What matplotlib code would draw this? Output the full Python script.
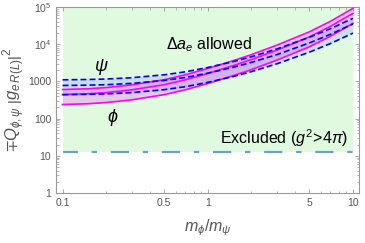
import matplotlib
matplotlib.use("Agg")
import matplotlib.pyplot as plt
import numpy as np

plt.rcParams['font.family'] = ['Liberation Sans', 'DejaVu Sans']
plt.rcParams['mathtext.fontset'] = 'custom'
plt.rcParams['mathtext.rm'] = 'Liberation Sans'
plt.rcParams['mathtext.it'] = 'Liberation Sans:italic'
plt.rcParams['mathtext.bf'] = 'Liberation Sans:bold'
plt.rcParams['mathtext.fallback'] = 'stixsans'

# ---- data ----
mass_ratio = [0.1, 0.15, 0.2, 0.3, 0.5, 0.7, 1, 1.5, 2, 3, 5, 7, 10]

psi_upper = [1103, 1126, 1158, 1256, 1502, 1807, 2362, 3402, 4602, 7484, 15300, 26210, 49810]
psi_mid = [777, 793, 815, 885, 1058, 1273, 1663, 2396, 3241, 5270, 10780, 18460, 35080]
psi_lower = [439, 449, 461, 500, 598, 720, 941, 1355, 1833, 2982, 6096, 10440, 19840]

phi_upper = [604, 634, 682, 808, 1110, 1502, 2224, 3617, 5258, 9465, 21430, 41290, 92130]
phi_mid = [443, 465, 500, 593, 814, 1102, 1632, 2654, 3858, 6944, 15720, 30290, 67590]
phi_lower = [239, 251, 270, 319, 439, 594, 879, 1430, 2078, 3741, 8470, 16320, 36410]

perturbative_limit = 4 * np.pi
region_x = [0.1, 10]
region_top = 1e5

xticks = [0.1, 0.5, 1, 5, 10]
xticklabels = ['0.1', '0.5', '1', '5', '10']
yticks = [1, 10, 100, 1000, 1e4, 1e5]
yticklabels = ['1', '10', '100', '1000', r'$10^4$', r'$10^5$']

# ---- figure ----
fig = plt.figure(figsize=(3.65, 2.43), dpi=100)
ax = fig.add_axes([56/365, 1-193/243, (359-56)/365, (193-7)/243])
ax.set_xscale('log')
ax.set_yscale('log')
ax.set_xlim(0.0902, 11.0)
ax.set_ylim(1, 1e5)

# allowed region
ax.fill_between(region_x, [perturbative_limit]*2, [region_top]*2,
                color='#e0fae0', lw=0, zorder=0)
ax.plot(region_x, [perturbative_limit]*2, color='#6a9fcf', lw=1.6,
        linestyle=(1.5, (8.2, 6.2, 2.4, 6.2)), zorder=2)

# psi band
ax.fill_between(mass_ratio, psi_lower, psi_upper, color='blue', alpha=0.1, lw=0, zorder=1)
# phi band
ax.fill_between(mass_ratio, phi_lower, phi_upper, color='magenta', alpha=0.2, lw=0, zorder=1)

for ys in (phi_upper, phi_mid, phi_lower):
    ax.plot(mass_ratio, ys, color='#ff00ff', lw=1.2, zorder=3)
for ys in (psi_upper, psi_mid, psi_lower):
    ax.plot(mass_ratio, ys, color='#0000ff', lw=1.2, linestyle=(0, (3.6, 1.8)), zorder=4)

# texts
def px(x, y):
    return fig.transFigure.inverted().transform((x, 243 - y))
fig.text(*px(101, 67), r'$\psi$', fontsize=13, ha='center', va='center')
fig.text(*px(113, 117), r'$\phi$', fontsize=13, ha='center', va='center')
fig.text(*px(209, 45), r'$\Delta a_e$ allowed', fontsize=11.5, ha='center', va='center')
fig.text(*px(284, 138), r'Excluded ($g^2\!>\!4\pi$)', fontsize=11.5, ha='center', va='center')

# ticks
ax.set_xticks(xticks)
ax.set_xticklabels(xticklabels)
ax.set_yticks(yticks)
ax.set_yticklabels(yticklabels)
ax.tick_params(which='both', direction='in', top=True, right=True, color='#999999',
               labelcolor='#555555', labelsize=7.5)
ax.tick_params(which='major', length=3, width=0.6)
ax.tick_params(which='minor', length=1.8, width=0.5)
ax.xaxis.set_minor_locator(matplotlib.ticker.FixedLocator(
    [0.2, 0.3, 0.4, 0.6, 0.7, 0.8, 0.9, 2, 3, 4, 6, 7, 8, 9]))
ax.xaxis.set_minor_formatter(matplotlib.ticker.NullFormatter())
ax.yaxis.set_minor_locator(matplotlib.ticker.LogLocator(base=10, subs=np.arange(2, 10)))
ax.yaxis.set_minor_formatter(matplotlib.ticker.NullFormatter())
for s in ax.spines.values():
    s.set_color('#999999')
    s.set_linewidth(0.8)

ax.set_xlabel(r'$m_\phi/m_\psi$', fontsize=11.5, color='#555555', labelpad=7)
ax.set_ylabel(r'$\mp Q_{\phi,\psi}\;\left|g_{e\,R(L)}\right|^2$', fontsize=12,
              color='#555555', labelpad=1)

fig.savefig('out.png', dpi=100)
